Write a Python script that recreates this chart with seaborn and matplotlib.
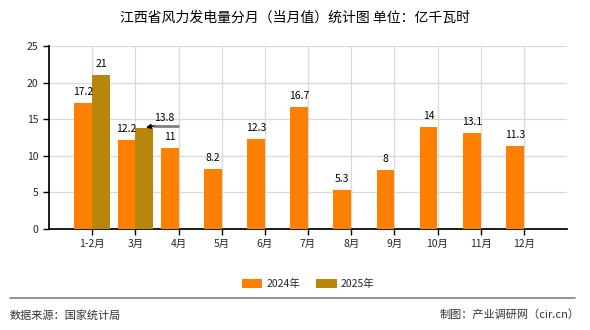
import matplotlib
matplotlib.use("Agg")
import matplotlib.pyplot as plt
import seaborn as sns
import pandas as pd
import numpy as np

categories = ["1-2月", "3月", "4月", "5月", "6月", "7月", "8月", "9月", "10月", "11月", "12月"]
values_2024 = [17.2, 12.2, 11, 8.2, 12.3, 16.7, 5.3, 8, 14, 13.1, 11.3]
values_2025 = [21, 13.8, None, None, None, None, None, None, None, None, None]
series = ["2024年", "2025年"]
colors = ["#FF8000", "#B8860B"]
yticks = [0, 5, 10, 15, 20, 25]

rows = []
for c, v in zip(categories, values_2024):
    rows.append({"月份": c, "年份": series[0], "值": v})
for c, v in zip(categories, values_2025):
    rows.append({"月份": c, "年份": series[1], "值": np.nan if v is None else v})
df = pd.DataFrame(rows)

sns.set_theme(style="white")
plt.rcParams['font.family'] = ['Noto Sans CJK SC', 'DejaVu Sans']

fig = plt.figure(figsize=(5.9, 3.3), dpi=100)
ax = fig.add_axes([49/590, 1-229/330, (567-49)/590, (229-46)/330])

sns.barplot(data=df, x="月份", y="值", hue="年份", palette=colors, ax=ax,
            width=0.82, saturation=1, legend=True, linewidth=0, zorder=3)

ax.set_ylim(0, 25)
ax.set_xlim(-1, len(categories))
ax.set_yticks(yticks)
ax.set_yticklabels([str(t) for t in yticks], fontsize=7.5)
ax.tick_params(axis='x', labelsize=7.5, length=4, width=1, color='black', direction='out', bottom=True)
ax.tick_params(axis='y', length=4, width=1, color='black', direction='out', left=True)
ax.grid(True, color='#d9d9d9', linewidth=0.9, zorder=0)
ax.set_axisbelow(True)
for s in ['top', 'right']:
    ax.spines[s].set_visible(False)
ax.spines['left'].set_color('black')
ax.spines['bottom'].set_color('black')
ax.set_xlabel("")
ax.set_ylabel("")

# value labels
for container, vals in zip(ax.containers, [values_2024, values_2025]):
    for bar, v in zip(container, vals):
        if v is None:
            continue
        if v == 13.8:
            continue
        ax.text(bar.get_x() + bar.get_width() / 2, v + 1.5, f"{v:g}",
                ha='center', va='center', fontsize=7.5, color='black')

# annotated 13.8 with leader line and arrow head
bar25 = ax.containers[1][1]
v = values_2025[1]
tip_x = bar25.get_x() + bar25.get_width() * 0.6
ax.plot([bar25.get_x() + bar25.get_width(), 2.0], [v + 0.3, v + 0.3],
        color='#808080', lw=2, solid_capstyle='butt', zorder=5)
ax.annotate("", xy=(tip_x, v + 0.05), xytext=(bar25.get_x() + bar25.get_width() + 0.02, v + 0.3),
            arrowprops=dict(arrowstyle='-|>', color='black', lw=1,
                            mutation_scale=7, shrinkA=0, shrinkB=0), zorder=6)
ax.text(1.66, v + 1.3, f"{v:g}", ha='center', va='center', fontsize=7.5, color='black')

ax.legend(loc='upper center', bbox_to_anchor=(0.5, -0.22), ncol=2, frameon=False,
          fontsize=7.5, handlelength=2.0, handleheight=1.0, columnspacing=1.5,
          handletextpad=0.4)

fig.text(0.5, 1 - 18/330, "江西省风力发电量分月（当月值）统计图 单位：亿千瓦时",
         ha='center', va='center', fontsize=10, color='black')
fig.add_artist(plt.Line2D([10/590, 575/590], [1 - 298/330, 1 - 298/330],
                          color='#808080', linewidth=1.2))
fig.text(10/590, 1 - 315/330, "数据来源：国家统计局", ha='left', va='center', fontsize=8, color='#333333')
fig.text(580/590, 1 - 315/330, "制图：产业调研网（cir.cn）", ha='right', va='center', fontsize=8, color='#333333')

fig.savefig("out.png", dpi=100)
